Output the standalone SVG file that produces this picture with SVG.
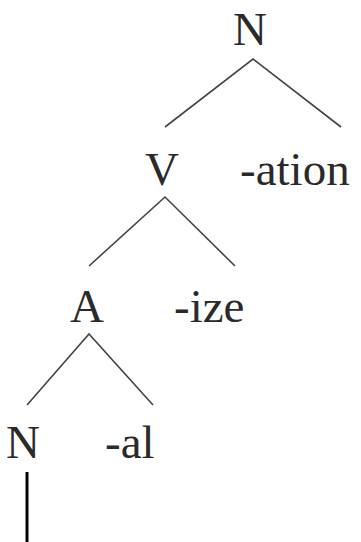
<svg xmlns="http://www.w3.org/2000/svg" width="361" height="542" viewBox="0 0 361 542">
<style>
text{font-family:"Liberation Serif","DejaVu Serif",serif;font-size:47px;fill:#2a2a2a}
.c{text-anchor:middle}
.e{stroke:#444;stroke-width:1.6;fill:none}
.bar{stroke:#000;stroke-width:3}
</style>
<rect width="361" height="542" fill="#fff"/>
<g id="connectors">
<path class="e" d="M165 127L253 59L341 127"/>
<path class="e" d="M89 266L165 197L235 266"/>
<path class="e" d="M27 405L89 334L153 405"/>
<line class="bar" x1="27" y1="472" x2="27" y2="542"/>
</g>
<g id="n-top"><text class="c" x="250" y="45">N</text></g>
<g id="v"><text class="c" x="162" y="185">V</text></g>
<g id="ation"><text x="240" y="185">-ation</text></g>
<g id="a"><text class="c" x="87" y="322">A</text></g>
<g id="ize"><text x="174" y="322">-ize</text></g>
<g id="n-low"><text class="c" x="23" y="458">N</text></g>
<g id="al"><text x="105" y="458">-al</text></g>
</svg>
